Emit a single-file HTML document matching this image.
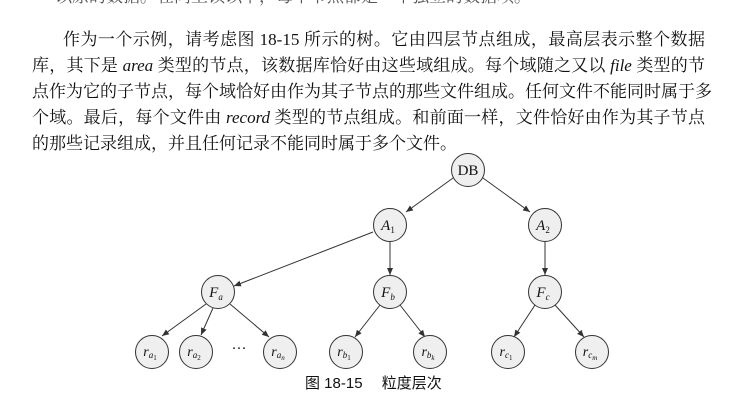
<!DOCTYPE html>
<html><head><meta charset="utf-8"><style>
html,body{margin:0;padding:0;background:#fff;width:748px;height:405px;overflow:hidden;position:relative}
.l{position:absolute;left:32px;width:673px;font-family:"Liberation Serif","Noto Serif CJK SC",serif;font-size:17px;color:#111;white-space:nowrap;text-align:justify;text-align-last:justify;line-height:20px}
.l i{font-style:italic}
</style></head><body>
<div class="l" style="top:-13px;left:55px;width:420px;color:#555">以原的数据。在同上锁以下，每个节点都是一个独立的数据项。</div>
<div class="l" style="top:30px;left:63px;width:642px">作为一个示例，请考虑图 18-15 所示的树。它由四层节点组成，最高层表示整个数据</div>
<div class="l" style="top:56px">库，其下是 <i>area</i> 类型的节点，该数据库恰好由这些域组成。每个域随之又以 <i>file</i> 类型的节</div>
<div class="l" style="top:82px">点作为它的子节点，每个域恰好由作为其子节点的那些文件组成。任何文件不能同时属于多</div>
<div class="l" style="top:108px">个域。最后，每个文件由 <i>record</i> 类型的节点组成。和前面一样，文件恰好由作为其子节点</div>
<div class="l" style="top:134px;width:auto;text-align:left;text-align-last:left">的那些记录组成，并且任何记录不能同时属于多个文件。</div>
<svg width="748" height="405" style="position:absolute;left:0;top:0" font-family="Liberation Serif, serif">
<defs><marker id="a" markerWidth="8" markerHeight="8" refX="7" refY="3" orient="auto" markerUnits="userSpaceOnUse"><path d="M0,0 L7,3 L0,6 Z" fill="#333"/></marker></defs>
<g stroke="#333" stroke-width="1" marker-end="url(#a)">
<line x1="453" y1="178" x2="406" y2="212"/>
<line x1="483" y1="178" x2="530" y2="212"/>
<line x1="373" y1="232" x2="234" y2="286"/>
<line x1="390" y1="242" x2="390" y2="275"/>
<line x1="545" y1="242" x2="545" y2="275"/>
<line x1="206" y1="304" x2="162" y2="336"/>
<line x1="213" y1="308" x2="201" y2="335"/>
<line x1="230" y1="304" x2="269" y2="337"/>
<line x1="380" y1="305" x2="355" y2="337"/>
<line x1="400" y1="305" x2="425" y2="337"/>
<line x1="535" y1="305" x2="514" y2="337"/>
<line x1="555" y1="305" x2="584" y2="337"/>
</g>
<g fill="#efefef" stroke="#333" stroke-width="1">
<circle cx="468" cy="170" r="16.5"/><circle cx="390" cy="225" r="16.5"/><circle cx="545" cy="225" r="16.5"/>
<circle cx="218" cy="292" r="16.5"/><circle cx="390" cy="292" r="16.5"/><circle cx="545" cy="292" r="16.5"/>
<circle cx="152" cy="352" r="16.5"/><circle cx="196" cy="352" r="16.5"/><circle cx="280" cy="352" r="16.5"/>
<circle cx="346" cy="352" r="16.5"/><circle cx="430" cy="352" r="16.5"/><circle cx="508" cy="352" r="16.5"/><circle cx="592" cy="352" r="16.5"/>
</g>
<g fill="#111" font-size="15" text-anchor="middle">
<text x="468" y="175">DB</text>
<text x="388" y="230" font-style="italic">A<tspan font-size="9" font-style="normal" dy="3">1</tspan></text>
<text x="543" y="230" font-style="italic">A<tspan font-size="9" font-style="normal" dy="3">2</tspan></text>
<text x="216" y="297" font-style="italic">F<tspan font-size="9" dy="3">a</tspan></text>
<text x="388" y="297" font-style="italic">F<tspan font-size="9" dy="3">b</tspan></text>
<text x="543" y="297" font-style="italic">F<tspan font-size="9" dy="3">c</tspan></text>
<g font-style="italic" font-size="14">
<text x="150" y="356">r<tspan font-size="9" dy="2">a</tspan><tspan font-size="7" dy="2" font-style="normal">1</tspan></text>
<text x="194" y="356">r<tspan font-size="9" dy="2">a</tspan><tspan font-size="7" dy="2" font-style="normal">2</tspan></text>
<text x="278" y="356">r<tspan font-size="9" dy="2">a</tspan><tspan font-size="7" dy="2">n</tspan></text>
<text x="344" y="356">r<tspan font-size="9" dy="2">b</tspan><tspan font-size="7" dy="2" font-style="normal">1</tspan></text>
<text x="428" y="356">r<tspan font-size="9" dy="2">b</tspan><tspan font-size="7" dy="2">k</tspan></text>
<text x="506" y="356">r<tspan font-size="9" dy="2">c</tspan><tspan font-size="7" dy="2" font-style="normal">1</tspan></text>
<text x="590" y="356">r<tspan font-size="9" dy="2">c</tspan><tspan font-size="7" dy="2">m</tspan></text>
</g>
<text x="239" y="353">···</text>
</g>
<text x="305" y="388" font-family="Liberation Sans, Noto Sans CJK SC, sans-serif" font-size="15" fill="#111">图 18-15　 粒度层次</text>
</svg>
</body></html>
